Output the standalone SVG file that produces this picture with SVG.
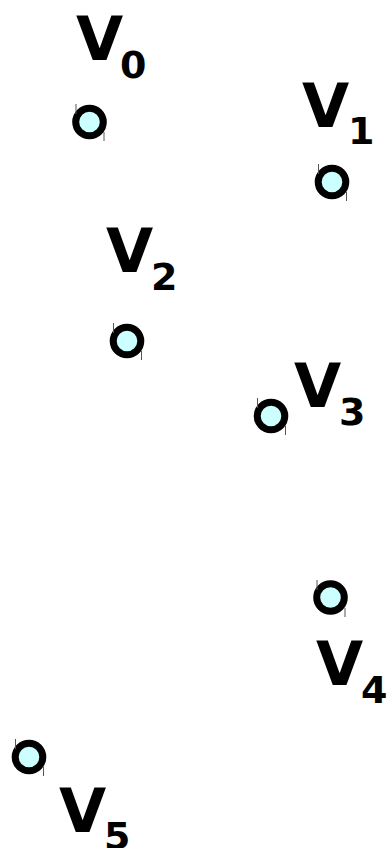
<svg xmlns="http://www.w3.org/2000/svg" width="391" height="848" viewBox="0 0 391 848">
<style>
.n{fill:#ccffff;stroke:#000;stroke-width:7}
.t{stroke:#555;stroke-width:1}
.v{font-family:"DejaVu Sans",sans-serif;font-weight:bold;font-size:61px;fill:#000}
.s{font-family:"DejaVu Sans",sans-serif;font-weight:bold;font-size:38px;fill:#000}
</style>
<rect width="391" height="848" fill="#fff"/>
<g id="connectors"/>
<g id="V0">
<circle class="n" cx="89.5" cy="122" r="13.8"/>
<path class="t" d="M76 104v10M104 132v9"/>
<text class="v" x="76" y="60">V</text><text class="s" x="120" y="78">0</text>
</g>
<g id="V1">
<circle class="n" cx="332" cy="182" r="13.8"/>
<path class="t" d="M318.5 164v10M346.5 192v9"/>
<text class="v" x="302" y="127">V</text><text class="s" x="348" y="144">1</text>
</g>
<g id="V2">
<circle class="n" cx="127" cy="341" r="13.8"/>
<path class="t" d="M113.5 323v10M141.5 351v9"/>
<text class="v" x="106" y="272">V</text><text class="s" x="151" y="290">2</text>
</g>
<g id="V3">
<circle class="n" cx="271" cy="416" r="13.8"/>
<path class="t" d="M257.5 398v10M285.5 426v9"/>
<text class="v" x="294" y="407">V</text><text class="s" x="339" y="425">3</text>
</g>
<g id="V4">
<circle class="n" cx="330.5" cy="597.5" r="13.8"/>
<path class="t" d="M317 580v10M345 608v9"/>
<text class="v" x="316" y="685">V</text><text class="s" x="361" y="703">4</text>
</g>
<g id="V5">
<circle class="n" cx="29" cy="757" r="13.8"/>
<path class="t" d="M15.5 739v10M43.5 767v9"/>
<text class="v" x="59" y="832">V</text><text class="s" x="104" y="849">5</text>
</g>
</svg>
